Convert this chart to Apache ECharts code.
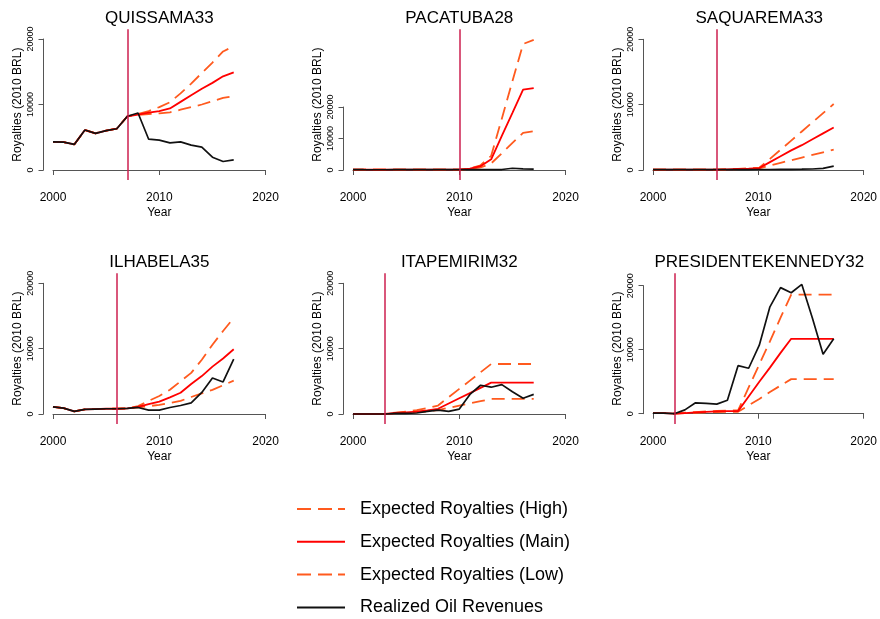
<!DOCTYPE html>
<html>
<head>
<meta charset="utf-8">
<title>Expected vs realized royalties</title>
<script src="https://cdn.jsdelivr.net/npm/echarts@6/dist/echarts.min.js"></script>
<style>
body{margin:0;background:#fff;}
#chart{width:880px;height:619px;}
</style>
</head>
<body>
<div id="chart"></div>
<script>

const years = [2000,2001,2002,2003,2004,2005,2006,2007,2008,2009,2010,2011,2012,2013,2014,2015,2016,2017]

const names = ["QUISSAMA33","PACATUBA28","SAQUAREMA33","ILHABELA35","ITAPEMIRIM32","PRESIDENTEKENNEDY32"]
const treatYear = [2007,2010,2006,2006,2003,2002]

const realized = [
  [4300,4250,3900,6100,5600,6000,6300,8200,8700,4700,4550,4150,4300,3800,3500,1950,1300,1550],
  [150,100,80,80,100,100,100,100,120,100,100,120,150,150,150,550,350,300],
  [50,50,50,50,50,50,50,60,60,70,80,80,90,100,120,150,250,600],
  [1100,900,400,700,750,800,800,850,1000,600,600,1000,1300,1700,3300,5500,4900,8400],
  [0,0,0,0,100,100,150,400,600,400,750,3000,4400,4100,4500,3400,2400,3000],
  [100,100,0,600,1700,1600,1500,2100,7500,7100,10700,16700,19700,18900,20200,14900,9300,11700]
]

const expMain = [
  [4300,4250,3900,6100,5600,6000,6300,8200,8450,8750,9000,9400,10400,11400,12400,13300,14300,14900],
  [150,100,80,80,100,100,100,100,120,100,100,400,1200,3400,10800,18100,25500,26000],
  [50,50,50,50,50,50,50,100,150,200,300,1200,2100,3000,3800,4700,5600,6500],
  [1100,900,400,700,750,800,800,850,1100,1500,1900,2550,3250,4600,5800,7250,8500,9900],
  [0,0,0,0,150,250,350,550,800,1600,2400,3200,4000,4800,4800,4800,4800,4800],
  [100,100,0,100,200,300,350,400,400,2700,5000,7200,9500,11700,11700,11700,11700,11700]
]

const expHigh = [
  [4300,4250,3900,6100,5600,6000,6300,8200,8550,9000,9600,10350,11700,13200,14800,16400,18100,18900],
  [150,100,80,80,100,100,100,100,120,100,100,500,1500,4500,16300,28200,40000,41300],
  [50,50,50,50,50,50,50,120,180,250,350,1700,3100,4500,5900,7300,8700,10100],
  [1100,900,400,700,750,800,800,850,1200,2000,2750,3700,5000,6300,8300,10600,12700,14700],
  [0,0,0,0,200,350,600,900,1300,2570,3840,5110,6380,7650,7650,7650,7650,7650],
  [100,100,0,150,250,350,450,500,500,4100,7700,11300,15000,18600,18600,18600,18600,18600]
]

const expLow = [
  [4300,4250,3900,6100,5600,6000,6300,8200,8400,8550,8650,8800,9200,9600,10000,10500,11000,11300],
  [150,100,80,80,100,100,100,100,120,100,100,300,800,2100,5300,8600,11800,12300],
  [50,50,50,50,50,50,50,80,120,160,250,700,1100,1500,1900,2300,2700,3100],
  [1100,900,400,700,750,800,800,850,1000,1200,1400,1700,2000,2600,3150,3700,4400,5100],
  [0,0,0,0,150,200,300,400,600,940,1280,1620,1960,2300,2300,2300,2300,2300],
  [100,100,0,80,150,200,250,300,300,1300,2300,3400,4400,5400,5400,5400,5400,5400]
]

const seriesNames = ["Expected Royalties (High)","Expected Royalties (Main)","Expected Royalties (Low)","Realized Oil Revenues"]

const colX2000 = [53,353,653]
const pxYear = 10.63
const axisGap = 9.5
const plotTop = [29.3,273.3]
const plotBottom = [180,424]
const yZeroPx = [170,170,170,414,414,413.7]
const y20kPx = [39,107,39.3,283.3,283.3,285.7]

const FONT = "Liberation Sans, Arial, sans-serif"
const ORANGE = "#ff5a1e"
const RED = "#ff0000"
const VLINE = "#cc1f4f"

// legend keys drawn as R-like line samples
const DASH_ICON = "path://M0,0H14V2H0Z M21,0H35V2H21Z M41,0H48V2H41Z"
const SOLID_ICON = "path://M0,0H48V2H0Z"

function pairs(arr){
  return years.map((y,i)=>[y,arr[i]])
}

const grid=[], xAxis=[], yAxis=[], series=[], title=[]

names.forEach((name,p)=>{

  const col = p%3
  const row = Math.floor(p/3)
  const x0 = colX2000[col]
  const w = 20*pxYear
  const top = plotTop[row]
  const bot = plotBottom[row]
  const scale = (yZeroPx[p]-y20kPx[p])/20000

  // plot region grid, holds the data
  grid.push({left:x0-axisGap,top:top,width:w+2*axisGap,height:bot-top})
  xAxis.push({
    type:"value",gridIndex:2*p,
    min:2000-axisGap/pxYear,max:2020+axisGap/pxYear,
    show:false
  })
  yAxis.push({
    type:"value",gridIndex:2*p,
    min:-(bot-yZeroPx[p])/scale,max:(yZeroPx[p]-top)/scale,
    axisLine:{show:false},axisTick:{show:false},axisLabel:{show:false},splitLine:{show:false},
    name:"Royalties (2010 BRL)",nameLocation:"middle",nameGap:20,
    nameTextStyle:{fontSize:12,color:"#000",fontFamily:FONT}
  })

  // detached R-style axes
  grid.push({left:x0,top:y20kPx[p],width:w,height:yZeroPx[p]-y20kPx[p]})
  xAxis.push({
    type:"value",gridIndex:2*p+1,min:2000,max:2020,interval:10,
    offset:bot-yZeroPx[p],
    axisLine:{lineStyle:{color:"#555",width:1}},
    axisTick:{length:5,lineStyle:{color:"#555"}},
    axisLabel:{fontSize:12,color:"#000",fontFamily:FONT,margin:12,formatter:v=>String(v)},
    splitLine:{show:false},
    name:"Year",nameLocation:"middle",nameGap:27,
    nameTextStyle:{fontSize:12,color:"#000",fontFamily:FONT}
  })
  yAxis.push({
    type:"value",gridIndex:2*p+1,min:0,max:20000,interval:10000,
    offset:axisGap,
    axisLine:{show:true,lineStyle:{color:"#555",width:1}},
    axisTick:{show:true,length:5,lineStyle:{color:"#555"}},
    axisLabel:{fontSize:9,color:"#000",fontFamily:FONT,rotate:90,margin:8,formatter:v=>String(v)},
    splitLine:{show:false}
  })

  title.push({
    text:name,left:x0+w/2,top:row===0?10:254,textAlign:"center",padding:0,
    textStyle:{fontSize:17,fontWeight:"normal",color:"#000",fontFamily:FONT}
  })

  const base = {type:"line",xAxisIndex:2*p,yAxisIndex:2*p,symbol:"none",showSymbol:false,silent:true}

  series.push(Object.assign({},base,{name:seriesNames[0],data:pairs(expHigh[p]),
    lineStyle:{color:ORANGE,width:1.8,type:[13,7]},itemStyle:{color:ORANGE}}))
  series.push(Object.assign({},base,{name:seriesNames[2],data:pairs(expLow[p]),
    lineStyle:{color:ORANGE,width:1.8,type:[13,7]},itemStyle:{color:ORANGE}}))
  series.push(Object.assign({},base,{name:seriesNames[1],data:pairs(expMain[p]),
    lineStyle:{color:RED,width:1.8},itemStyle:{color:RED}}))
  series.push(Object.assign({},base,{name:seriesNames[3],data:pairs(realized[p]),
    lineStyle:{color:"#111",width:1.7},itemStyle:{color:"#111"},
    markLine:{silent:true,symbol:["none","none"],label:{show:false},animation:false,
      lineStyle:{color:VLINE,width:1.5,type:"solid"},
      data:[{xAxis:treatYear[p]}]}}))
})

const chart = echarts.init(document.getElementById("chart"),null,{renderer:"canvas"})

chart.setOption({
  animation:false,
  backgroundColor:"#fff",
  title:title,
  grid:grid,
  xAxis:xAxis,
  yAxis:yAxis,
  legend:{
    data:[
      {name:seriesNames[0],icon:DASH_ICON},
      {name:seriesNames[1],icon:SOLID_ICON},
      {name:seriesNames[2],icon:DASH_ICON},
      {name:seriesNames[3],icon:SOLID_ICON}
    ],
    orient:"vertical",
    left:297,top:500,padding:0,
    itemWidth:48,itemHeight:18,itemGap:14.8,
    selectedMode:false,
    textStyle:{fontSize:18,color:"#000",fontFamily:FONT,padding:[0,0,0,10]}
  },
  series:series
})

</script>
</body>
</html>
